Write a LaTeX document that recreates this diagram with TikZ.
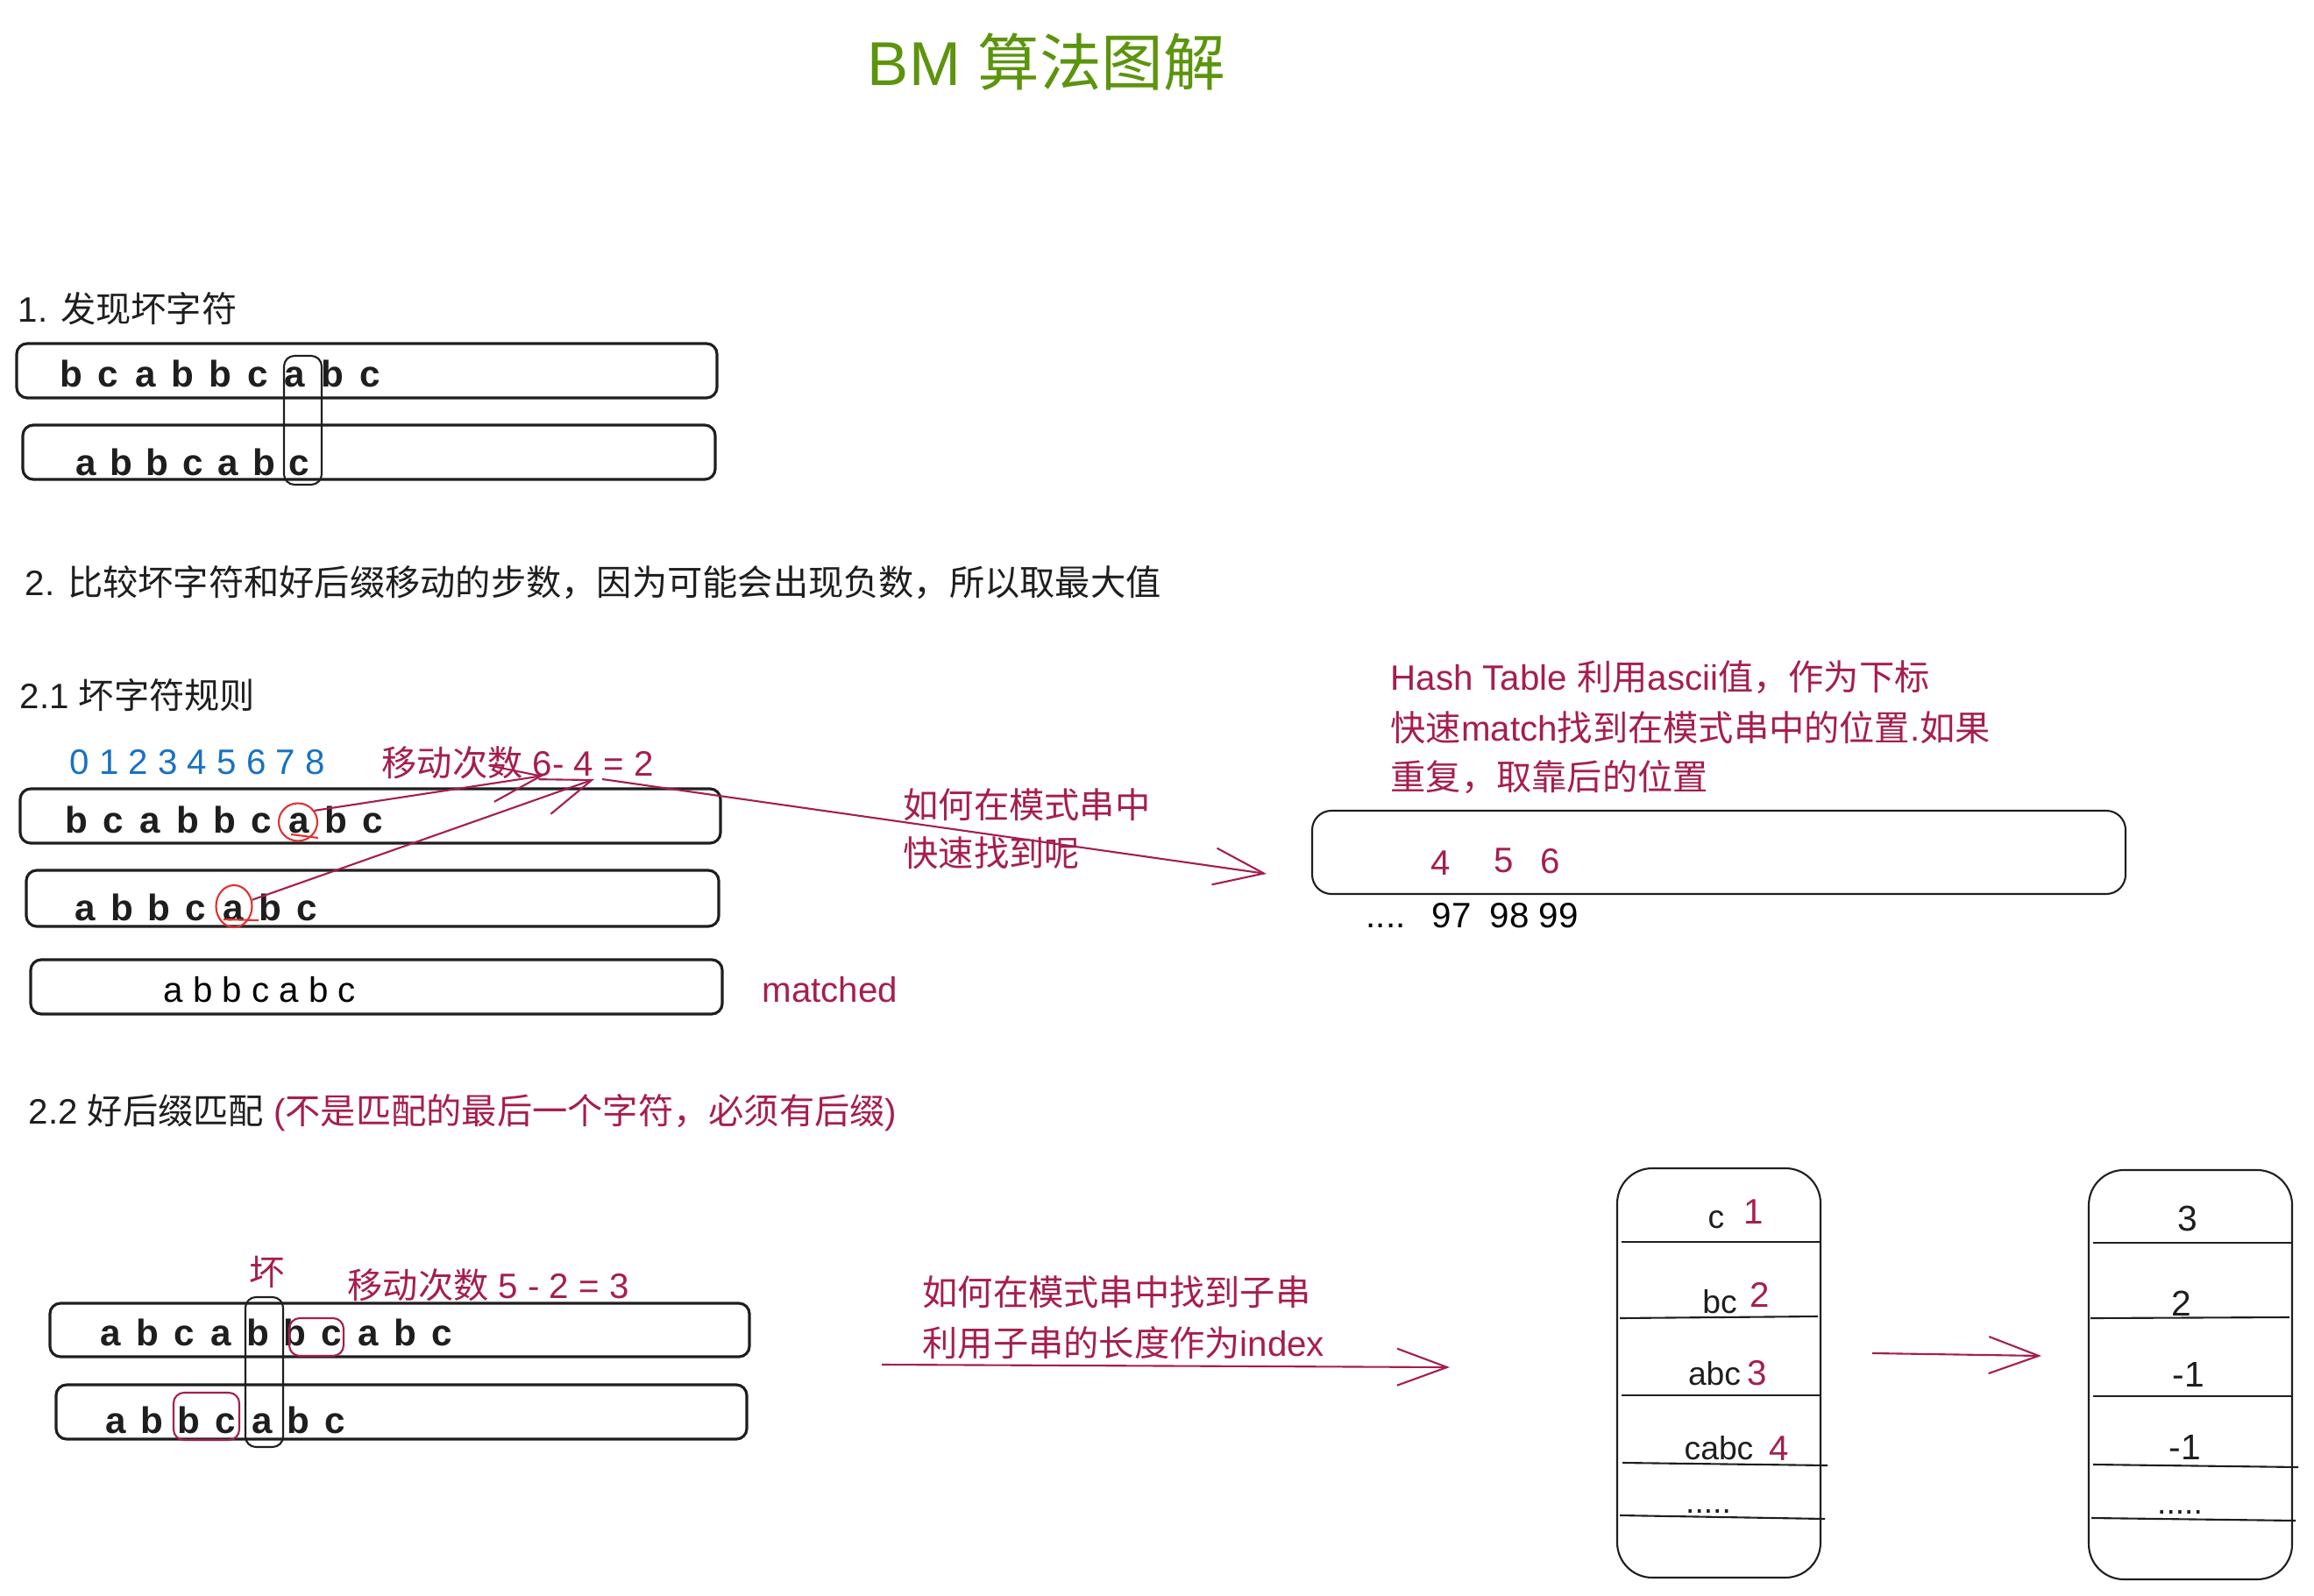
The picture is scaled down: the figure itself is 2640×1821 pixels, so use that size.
\documentclass[tikz,border=0pt]{standalone}
\usepackage{fontspec}
\setmainfont{Liberation Sans}
\newfontfamily\cjk{Noto Sans CJK SC}
\newcommand{\zh}[1]{{\cjk #1}}
\usetikzlibrary{arrows.meta,shapes.geometric}
\definecolor{Ink}{HTML}{1E1E1E}
\definecolor{Crimson}{HTML}{A61E4D}
\definecolor{Lime}{HTML}{5C940D}
\definecolor{Ocean}{HTML}{1971C2}
\definecolor{Alert}{HTML}{E03131}

\begin{document}
\begin{tikzpicture}[x=0.1mm,y=-0.1mm,>={Straight Barb[length=5.7mm,width=4.2mm]},
 txt/.style={inner sep=0,font=\fontsize{11.45}{16}\selectfont},
 head/.style={txt,anchor=west,text=Ink},
 note/.style={txt,text=Crimson},
 hand/.style={inner sep=0,anchor=base,font=\fontsize{12}{14}\selectfont\bfseries,text=Ink},
 cell/.style={inner sep=0,font=\fontsize{10.6}{12}\selectfont,text=Ink},
 strip/.style={draw=Ink,line width=0.9pt,rounded corners=1.2mm},
 pick/.style={draw=Ink,line width=0.6pt,rounded corners=1.2mm},
 hit/.style={draw=Crimson,line width=0.6pt,rounded corners=1.2mm},
 ring/.style={draw=Alert,line width=0.6pt,ellipse,inner sep=0},
 flow/.style={->,draw=Crimson,line width=0.6pt},
 rule/.style={draw=Ink,line width=0.6pt}]
 \useasboundingbox (0,0) rectangle (2640,1821);
 \node[inner sep=0,text=Lime,font=\fontsize{20.1}{24}\selectfont] (title) at (1194,71) {BM \zh{算法图解}};

 % 1. bad character
 \node[head] (h1) at (20,352) {1. \zh{发现坏字符}};
 \draw[strip] (19,392) rectangle (818,454);
 \draw[strip] (26,485) rectangle (816,547);
 \foreach \ch [count=\i from 0] in {b,c,a,b,b,c,a,b,c}
  \node[hand] (ta\i) at (81+42.6*\i,442) {\ch};
 \foreach \ch [count=\i from 0] in {a,b,b,c,a,b,c}
  \node[hand] (pa\i) at (98+40.6*\i,543) {\ch};
 \draw[pick] (324,406) rectangle (367,553);

 % 2. compare
 \node[head] (h2) at (28,665) {2. \zh{比较坏字符和好后缀移动的步数，因为可能会出现负数，所以取最大值}};

 % 2.1 bad character rule
 \node[head] (h21) at (22,793) {2.1 \zh{坏字符规则}};
 \node[txt,anchor=west,text=Ocean] (idx) at (79,870) {0 1 2 3 4 5 6 7 8};
 \node[note,anchor=west] (shiftA) at (435,870) {\zh{移动次数} 6- 4 = 2};
 \draw[strip] (23,900) rectangle (822,962);
 \draw[strip] (30,993) rectangle (820,1057);
 \draw[strip] (35,1095) rectangle (824,1157);
 \foreach \ch [count=\i from 0] in {b,c,a,b,b,c,a,b,c}
  \node[hand] (tb\i) at (87+42.3*\i,950) {\ch};
 \foreach \ch [count=\i from 0] in {a,b,b,c,a,b,c}
  \node[hand] (pb\i) at (97+42.2*\i,1050) {\ch};
 \node[txt,anchor=base west] (done) at (186,1143) {a b b c a b c};
 \node[note,anchor=base west] (matched) at (869,1143) {matched};
 \node[ring,minimum width=4.4mm,minimum height=4.3mm] (badA) at (340,938) {};
 \node[ring,minimum width=4.1mm,minimum height=4.8mm] (badB) at (267,1034) {};
 \draw[Alert,line width=0.6pt] (332,952) -- (363,956);
 \draw[Alert,line width=0.6pt] (255,1049) -- (295,1050);
 \coordinate (tipSix) at (620,885);
 \coordinate (tipFour) at (678,889);
 \coordinate (fromEq) at (687,889);
 \coordinate (hashIn) at (1445,997);
 \draw[flow] (badA.35) -- (tipSix);
 \draw[flow] (badB) -- (tipFour);
 \draw[flow] (fromEq) -- (hashIn);
 \node[note,anchor=west] (askA) at (1030,918) {\zh{如何在模式串中}};
 \node[note,anchor=west] (askB) at (1030,973) {\zh{快速找到呢}};

 % hash table
 \node[note,anchor=west] (hashA) at (1586,773) {Hash Table \zh{利用}ascii\zh{值，作为下标}};
 \node[note,anchor=west] (hashB) at (1586,830) {\zh{快速}match\zh{找到在模式串中的位置}.\zh{如果}};
 \node[note,anchor=west] (hashC) at (1586,887) {\zh{重复，取靠后的位置}};
 \node[draw=Ink,line width=0.6pt,rounded corners=2.2mm,minimum width=92.8mm,minimum height=9.5mm] (hash) at (1961,972.5) {};
 \node[note] (v4) at (1644,985) {4};
 \node[note] (v5) at (1716,982) {5};
 \node[note] (v6) at (1769,983) {6};
 \node[txt,anchor=base west] (dots) at (1558,1058) {....};
 \node[txt,anchor=base west] (k97) at (1633,1058) {97};
 \node[txt,anchor=base west] (k98) at (1699,1058) {98};
 \node[txt,anchor=base west] (k99) at (1755,1058) {99};

 % 2.2 good suffix
 \node[head] (h22) at (32,1270) {2.2 \zh{好后缀匹配} {\color{Crimson}(\zh{不是匹配的最后一个字符，必须有后缀})}};
 \node[note] (bad) at (305,1451) {\zh{坏}};
 \node[note,anchor=west] (shiftB) at (396,1466) {\zh{移动次数} 5 - 2 = 3};
 \draw[strip] (57,1487) rectangle (855,1548);
 \draw[strip] (64,1580) rectangle (852,1642);
 \foreach \ch [count=\i from 0] in {a,b,c,a,b,b,c,a,b,c}
  \node[hand] (td\i) at (126+42*\i,1535) {\ch};
 \foreach \ch [count=\i from 0] in {a,b,b,c,a,b,c}
  \node[hand] (pd\i) at (132+41.7*\i,1635) {\ch};
 \draw[pick] (280,1480) rectangle (323,1651);
 \draw[hit] (330,1504) rectangle (392,1547);
 \draw[hit] (198,1589) rectangle (273,1643);
 \node[note,anchor=west] (findA) at (1052,1474) {\zh{如何在模式串中找到子串}};
 \node[note,anchor=west] (findB) at (1052,1532) {\zh{利用子串的长度作为}index};
 \coordinate (sufFrom) at (1006,1557);
 \coordinate (sufTo) at (1654,1560);
 \draw[flow] (sufFrom) -- (sufTo);

 % suffix table
 \draw[rule,rounded corners=4mm] (1845,1333) rectangle (2077,1800);
 \draw[rule] (1850,1417) -- (2076,1417);
 \draw[rule] (1848,1504) -- (2074,1502);
 \draw[rule] (1850,1592) -- (2077,1592);
 \draw[rule] (1851,1669) -- (2085,1672);
 \draw[rule] (1848,1729) -- (2082,1733);
 \node[cell] (s1) at (1958,1392) {c};
 \node[note] (n1) at (2001,1383) {1};
 \node[cell] (s2) at (1962,1485) {bc};
 \node[note] (n2) at (2008,1477) {2};
 \node[cell] (s3) at (1956,1567) {abc};
 \node[note] (n3) at (2005,1567) {3};
 \node[cell] (s4) at (1961,1652) {cabc};
 \node[note] (n4) at (2030,1653) {4};
 \node[cell,anchor=base] (s5) at (1949,1726) {.....};
 \coordinate (tabFrom) at (2136,1544);
 \coordinate (tabTo) at (2329,1547);
 \draw[flow] (tabFrom) -- (tabTo);

 % shift table
 \draw[rule,rounded corners=4mm] (2383,1335) rectangle (2615,1802);
 \draw[rule] (2388,1418) -- (2614,1418);
 \draw[rule] (2385,1504) -- (2612,1503);
 \draw[rule] (2388,1593) -- (2615,1593);
 \draw[rule] (2388,1671) -- (2622,1674);
 \draw[rule] (2386,1732) -- (2619,1735);
 \node[cell,font=\fontsize{11.6}{14}\selectfont] (m1) at (2496,1390) {3};
 \node[cell,font=\fontsize{11.6}{14}\selectfont] (m2) at (2489,1487) {2};
 \node[cell,font=\fontsize{11.6}{14}\selectfont] (m3) at (2497,1568) {-1};
 \node[cell,font=\fontsize{11.6}{14}\selectfont] (m4) at (2493,1651) {-1};
 \node[cell,anchor=base] (m5) at (2487,1727) {.....};
\end{tikzpicture}
\end{document}
